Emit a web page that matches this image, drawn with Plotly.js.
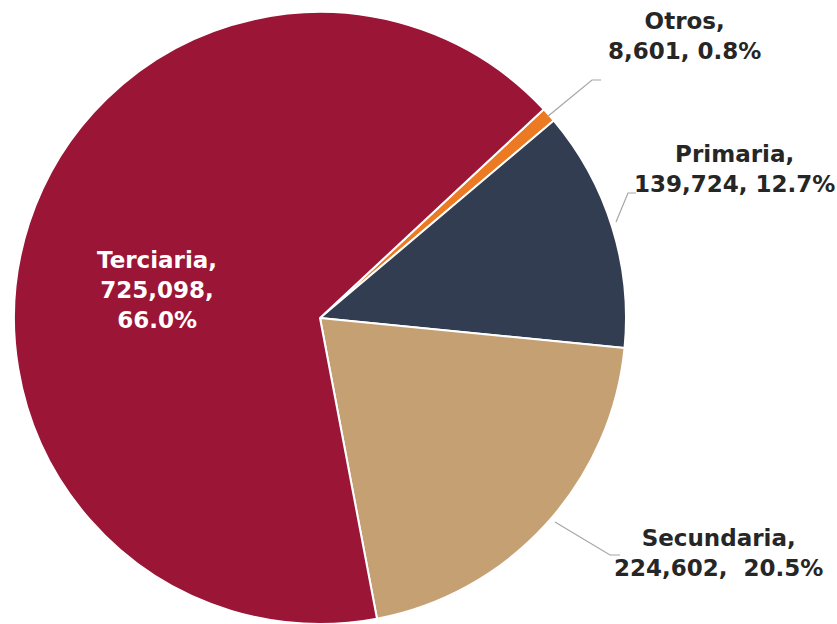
<!DOCTYPE html>
<html><head><meta charset="utf-8">
<script src="https://cdn.plot.ly/plotly-3.0.1.min.js"></script>
<style>html,body{margin:0;padding:0;background:#fff}#c{width:837px;height:624px}</style>
</head><body><div id="c"></div>
<script>
const labels = ["Otros", "Primaria", "Secundaria", "Terciaria"];
const values = [8601, 139724, 224602, 725098];
const colors = ["#EC7A22", "#333D51", "#C5A072", "#9A1536"];

const W = 837, H = 624;
const total = values.reduce((a, b) => a + b, 0);
const fmt = v => v.toLocaleString("en-US");
const pct = v => (100 * v / total).toFixed(1) + "%";
const px = x => x / W, py = y => 1 - y / H;

const font = {family: "DejaVu Sans, sans-serif", size: 23, color: "#262626", weight: "bold"};
const place = {
  "Otros": {x: 684, y: 36, sep: ", "},
  "Primaria": {x: 734, y: 169, sep: ", "},
  "Secundaria": {x: 718, y: 553, sep: ",&nbsp; "},
};
const annotations = [];
labels.forEach((l, i) => {
  if (l === "Terciaria") {
    annotations.push({
      text: "<b>" + l + ",<br>" + fmt(values[i]) + ",<br>" + pct(values[i]) + "</b>",
      x: px(157), y: py(290), xref: "paper", yref: "paper", showarrow: false,
      xanchor: "center", yanchor: "middle",
      font: Object.assign({}, font, {color: "#ffffff"}), align: "center"
    });
  } else {
    const p = place[l];
    annotations.push({
      text: "<b>" + l + ",<br>" + fmt(values[i]) + p.sep + pct(values[i]) + "</b>",
      x: px(p.x), y: py(p.y), xref: "paper", yref: "paper", showarrow: false,
      xanchor: "center", yanchor: "middle",
      font: font, align: "center"
    });
  }
});
const leader = pts => ({
  type: "path", xref: "paper", yref: "paper",
  path: "M" + pts.map(p => px(p[0]) + "," + py(p[1])).join(" L"),
  line: {color: "#A6A6A6", width: 1.2}
});
const shapes = [
  leader([[547, 117], [592, 80], [601, 80]]),
  leader([[616, 222], [628, 193], [636, 193]]),
  leader([[555, 522], [610, 555], [620, 555]])
];

Plotly.newPlot("c", [{
  type: "pie", labels: labels, values: values, sort: false,
  direction: "clockwise", rotation: 47,
  marker: {colors: colors, line: {color: "#ffffff", width: 2}},
  textinfo: "none", hoverinfo: "none",
  domain: {x: [(320 - 306) / W, (320 + 306) / W], y: [(624 - 318 - 306) / H, (624 - 318 + 306) / H]}
}], {
  width: W, height: H, margin: {l: 0, r: 0, t: 0, b: 0},
  showlegend: false, paper_bgcolor: "#ffffff",
  annotations: annotations, shapes: shapes
}, {displayModeBar: false, staticPlot: true});
</script></body></html>
